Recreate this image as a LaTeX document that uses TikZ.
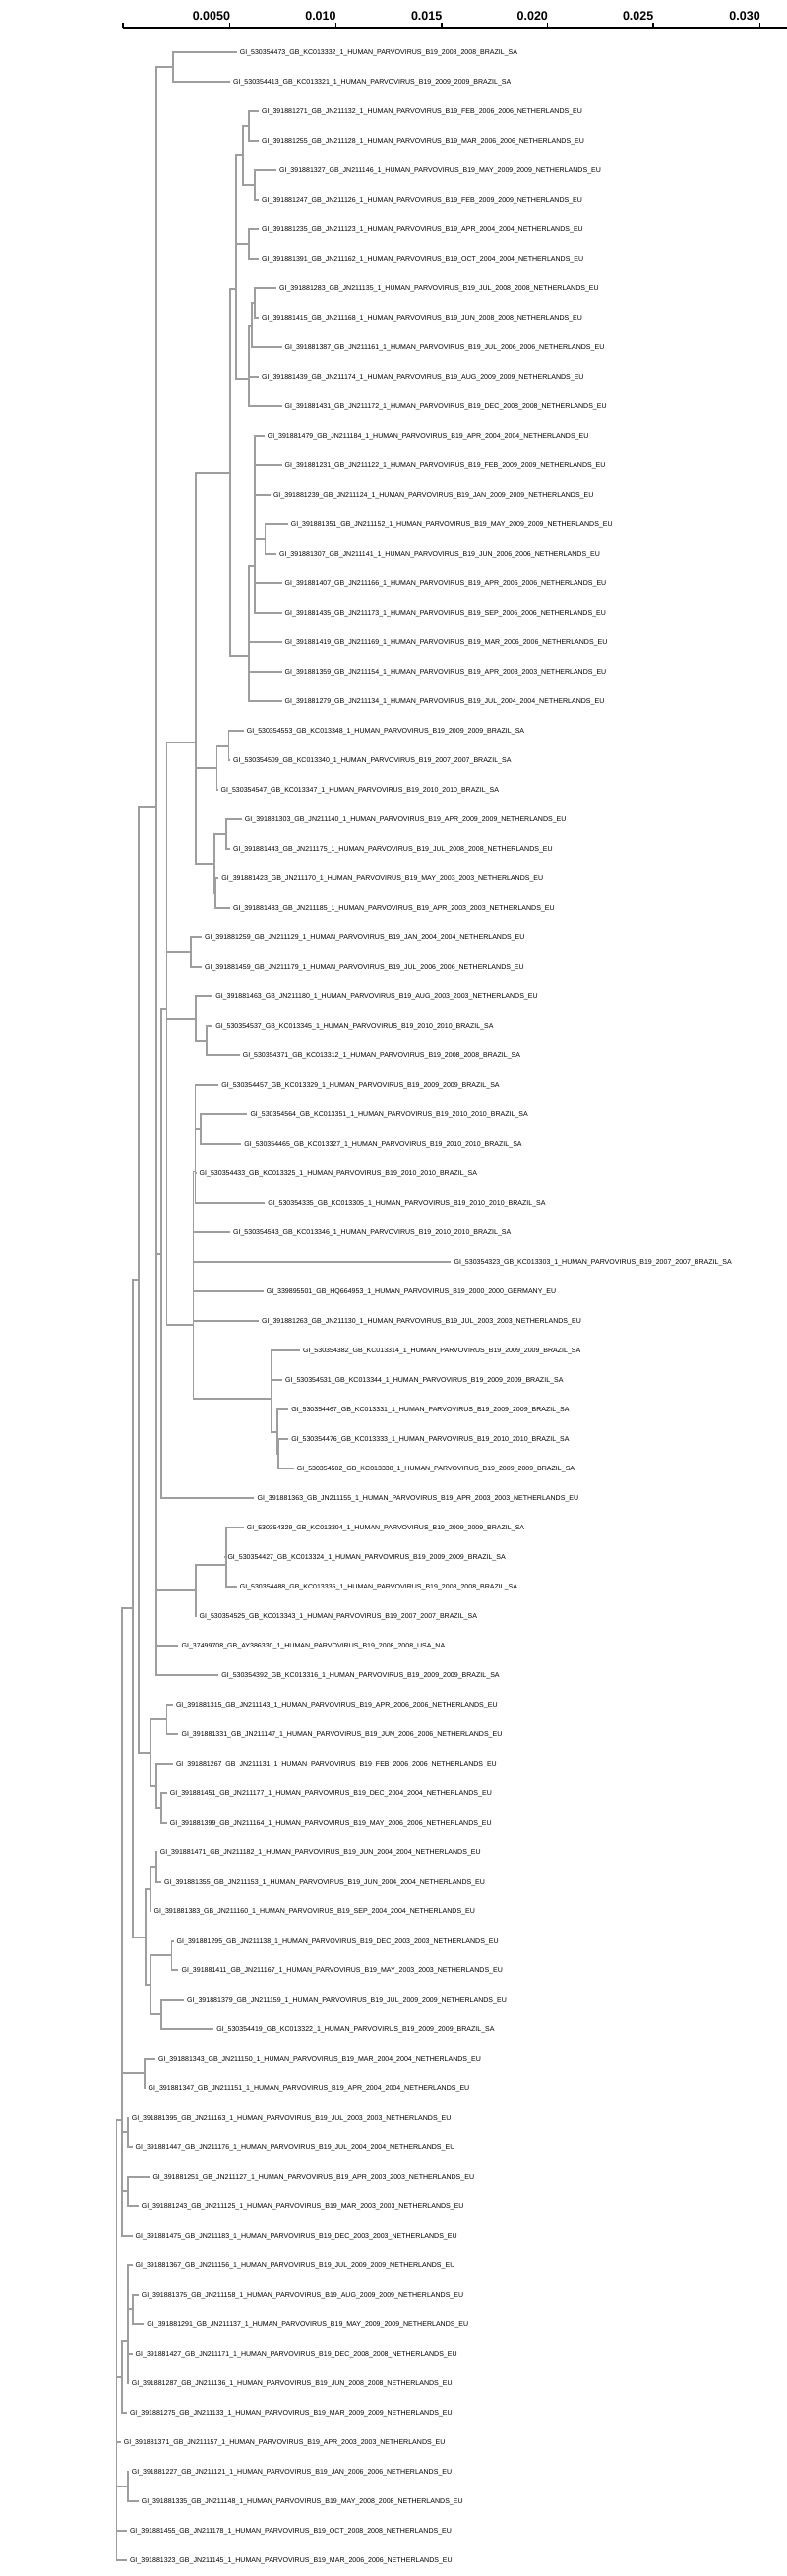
\documentclass[tikz,border=0pt]{standalone}
\usepackage{fontspec}
\setmainfont{Liberation Sans}
\definecolor{brgray}{RGB}{158,158,158}
\tikzset{
  br/.style={draw=brgray, line width=1.8pt},
  leaf/.style={anchor=west, inner xsep=3pt, inner ysep=0pt, text height=5pt, text depth=0pt, font=\fontsize{7.04}{8}\selectfont},
  axisline/.style={draw=black, line width=1.8pt},
  tickmark/.style={draw=black, line width=1.2pt},
  axlab/.style={anchor=base east, inner sep=0pt, font=\fontsize{12.5}{14}\selectfont\bfseries}
}
\newcommand\lf[3]{\node[leaf] (l#1) at (#2,{23.3+30*#1}) {#3};}
\newcommand\kids[2]{\foreach \c in {#2}{\draw[br] (#1) |- (\c);}}
\begin{document}
\catcode`\_=12
\begin{tikzpicture}[x=1pt,y=-1pt]
\useasboundingbox (0,0) rectangle (800,2619);
% axis
\coordinate (a0) at (125,28);
\coordinate (a1) at (800,28);
\draw[axisline] (a0) -- (a1);
\draw[tickmark] (a0) -- ++(0,-5.5);
\foreach \v/\x [count=\k] in {0.0050/233.7,0.010/341.3,0.015/449,0.020/556.6,0.025/664,0.030/772.4}{
  \coordinate (tk\k) at (\x,28);
  \draw[tickmark] (tk\k) -- ++(0,-5.5);
  \node[axlab] (tl\k) at (\x+0.5,20) {\v};
}
% leaves
\lf{1}{240.6}{GI_530354473_GB_KC013332_1_HUMAN_PARVOVIRUS_B19_2008_2008_BRAZIL_SA}
\lf{2}{233.9}{GI_530354413_GB_KC013321_1_HUMAN_PARVOVIRUS_B19_2009_2009_BRAZIL_SA}
\lf{3}{263}{GI_391881271_GB_JN211132_1_HUMAN_PARVOVIRUS_B19_FEB_2006_2006_NETHERLANDS_EU}
\lf{4}{263}{GI_391881255_GB_JN211128_1_HUMAN_PARVOVIRUS_B19_MAR_2006_2006_NETHERLANDS_EU}
\lf{5}{280.9}{GI_391881327_GB_JN211146_1_HUMAN_PARVOVIRUS_B19_MAY_2009_2009_NETHERLANDS_EU}
\lf{6}{263}{GI_391881247_GB_JN211126_1_HUMAN_PARVOVIRUS_B19_FEB_2009_2009_NETHERLANDS_EU}
\lf{7}{263}{GI_391881235_GB_JN211123_1_HUMAN_PARVOVIRUS_B19_APR_2004_2004_NETHERLANDS_EU}
\lf{8}{263}{GI_391881391_GB_JN211162_1_HUMAN_PARVOVIRUS_B19_OCT_2004_2004_NETHERLANDS_EU}
\lf{9}{280.9}{GI_391881283_GB_JN211135_1_HUMAN_PARVOVIRUS_B19_JUL_2008_2008_NETHERLANDS_EU}
\lf{10}{263}{GI_391881415_GB_JN211168_1_HUMAN_PARVOVIRUS_B19_JUN_2008_2008_NETHERLANDS_EU}
\lf{11}{286.5}{GI_391881387_GB_JN211161_1_HUMAN_PARVOVIRUS_B19_JUL_2006_2006_NETHERLANDS_EU}
\lf{12}{263}{GI_391881439_GB_JN211174_1_HUMAN_PARVOVIRUS_B19_AUG_2009_2009_NETHERLANDS_EU}
\lf{13}{286.5}{GI_391881431_GB_JN211172_1_HUMAN_PARVOVIRUS_B19_DEC_2008_2008_NETHERLANDS_EU}
\lf{14}{268.6}{GI_391881479_GB_JN211184_1_HUMAN_PARVOVIRUS_B19_APR_2004_2004_NETHERLANDS_EU}
\lf{15}{286.5}{GI_391881231_GB_JN211122_1_HUMAN_PARVOVIRUS_B19_FEB_2009_2009_NETHERLANDS_EU}
\lf{16}{274.8}{GI_391881239_GB_JN211124_1_HUMAN_PARVOVIRUS_B19_JAN_2009_2009_NETHERLANDS_EU}
\lf{17}{292.6}{GI_391881351_GB_JN211152_1_HUMAN_PARVOVIRUS_B19_MAY_2009_2009_NETHERLANDS_EU}
\lf{18}{280.9}{GI_391881307_GB_JN211141_1_HUMAN_PARVOVIRUS_B19_JUN_2006_2006_NETHERLANDS_EU}
\lf{19}{286.5}{GI_391881407_GB_JN211166_1_HUMAN_PARVOVIRUS_B19_APR_2006_2006_NETHERLANDS_EU}
\lf{20}{286.5}{GI_391881435_GB_JN211173_1_HUMAN_PARVOVIRUS_B19_SEP_2006_2006_NETHERLANDS_EU}
\lf{21}{286.5}{GI_391881419_GB_JN211169_1_HUMAN_PARVOVIRUS_B19_MAR_2006_2006_NETHERLANDS_EU}
\lf{22}{286.5}{GI_391881359_GB_JN211154_1_HUMAN_PARVOVIRUS_B19_APR_2003_2003_NETHERLANDS_EU}
\lf{23}{286.5}{GI_391881279_GB_JN211134_1_HUMAN_PARVOVIRUS_B19_JUL_2004_2004_NETHERLANDS_EU}
\lf{24}{247.7}{GI_530354553_GB_KC013348_1_HUMAN_PARVOVIRUS_B19_2009_2009_BRAZIL_SA}
\lf{25}{234}{GI_530354509_GB_KC013340_1_HUMAN_PARVOVIRUS_B19_2007_2007_BRAZIL_SA}
\lf{26}{221.5}{GI_530354547_GB_KC013347_1_HUMAN_PARVOVIRUS_B19_2010_2010_BRAZIL_SA}
\lf{27}{245.7}{GI_391881303_GB_JN211140_1_HUMAN_PARVOVIRUS_B19_APR_2009_2009_NETHERLANDS_EU}
\lf{28}{233.9}{GI_391881443_GB_JN211175_1_HUMAN_PARVOVIRUS_B19_JUL_2008_2008_NETHERLANDS_EU}
\lf{29}{222.2}{GI_391881423_GB_JN211170_1_HUMAN_PARVOVIRUS_B19_MAY_2003_2003_NETHERLANDS_EU}
\lf{30}{233.9}{GI_391881483_GB_JN211185_1_HUMAN_PARVOVIRUS_B19_APR_2003_2003_NETHERLANDS_EU}
\lf{31}{204.9}{GI_391881259_GB_JN211129_1_HUMAN_PARVOVIRUS_B19_JAN_2004_2004_NETHERLANDS_EU}
\lf{32}{204.9}{GI_391881459_GB_JN211179_1_HUMAN_PARVOVIRUS_B19_JUL_2006_2006_NETHERLANDS_EU}
\lf{33}{216.1}{GI_391881463_GB_JN211180_1_HUMAN_PARVOVIRUS_B19_AUG_2003_2003_NETHERLANDS_EU}
\lf{34}{216.1}{GI_530354537_GB_KC013345_1_HUMAN_PARVOVIRUS_B19_2010_2010_BRAZIL_SA}
\lf{35}{243.6}{GI_530354371_GB_KC013312_1_HUMAN_PARVOVIRUS_B19_2008_2008_BRAZIL_SA}
\lf{36}{222.2}{GI_530354457_GB_KC013329_1_HUMAN_PARVOVIRUS_B19_2009_2009_BRAZIL_SA}
\lf{37}{251.3}{GI_530354564_GB_KC013351_1_HUMAN_PARVOVIRUS_B19_2010_2010_BRAZIL_SA}
\lf{38}{245.2}{GI_530354465_GB_KC013327_1_HUMAN_PARVOVIRUS_B19_2010_2010_BRAZIL_SA}
\lf{39}{199.5}{GI_530354433_GB_KC013325_1_HUMAN_PARVOVIRUS_B19_2010_2010_BRAZIL_SA}
\lf{40}{269.1}{GI_530354335_GB_KC013305_1_HUMAN_PARVOVIRUS_B19_2010_2010_BRAZIL_SA}
\lf{41}{233.9}{GI_530354543_GB_KC013346_1_HUMAN_PARVOVIRUS_B19_2010_2010_BRAZIL_SA}
\lf{42}{458.4}{GI_530354323_GB_KC013303_1_HUMAN_PARVOVIRUS_B19_2007_2007_BRAZIL_SA}
\lf{43}{267.6}{GI_339895501_GB_HQ664953_1_HUMAN_PARVOVIRUS_B19_2000_2000_GERMANY_EU}
\lf{44}{263}{GI_391881263_GB_JN211130_1_HUMAN_PARVOVIRUS_B19_JUL_2003_2003_NETHERLANDS_EU}
\lf{45}{304.9}{GI_530354382_GB_KC013314_1_HUMAN_PARVOVIRUS_B19_2009_2009_BRAZIL_SA}
\lf{46}{287}{GI_530354531_GB_KC013344_1_HUMAN_PARVOVIRUS_B19_2009_2009_BRAZIL_SA}
\lf{47}{293.1}{GI_530354467_GB_KC013331_1_HUMAN_PARVOVIRUS_B19_2009_2009_BRAZIL_SA}
\lf{48}{293.1}{GI_530354476_GB_KC013333_1_HUMAN_PARVOVIRUS_B19_2010_2010_BRAZIL_SA}
\lf{49}{298.7}{GI_530354502_GB_KC013338_1_HUMAN_PARVOVIRUS_B19_2009_2009_BRAZIL_SA}
\lf{50}{258.4}{GI_391881363_GB_JN211155_1_HUMAN_PARVOVIRUS_B19_APR_2003_2003_NETHERLANDS_EU}
\lf{51}{247.7}{GI_530354329_GB_KC013304_1_HUMAN_PARVOVIRUS_B19_2009_2009_BRAZIL_SA}
\lf{52}{228.3}{GI_530354427_GB_KC013324_1_HUMAN_PARVOVIRUS_B19_2009_2009_BRAZIL_SA}
\lf{53}{240.6}{GI_530354488_GB_KC013335_1_HUMAN_PARVOVIRUS_B19_2008_2008_BRAZIL_SA}
\lf{54}{199.5}{GI_530354525_GB_KC013343_1_HUMAN_PARVOVIRUS_B19_2007_2007_BRAZIL_SA}
\lf{55}{181.4}{GI_37499708_GB_AY386330_1_HUMAN_PARVOVIRUS_B19_2008_2008_USA_NA}
\lf{56}{222.2}{GI_530354392_GB_KC013316_1_HUMAN_PARVOVIRUS_B19_2009_2009_BRAZIL_SA}
\lf{57}{175.8}{GI_391881315_GB_JN211143_1_HUMAN_PARVOVIRUS_B19_APR_2006_2006_NETHERLANDS_EU}
\lf{58}{181.4}{GI_391881331_GB_JN211147_1_HUMAN_PARVOVIRUS_B19_JUN_2006_2006_NETHERLANDS_EU}
\lf{59}{175.8}{GI_391881267_GB_JN211131_1_HUMAN_PARVOVIRUS_B19_FEB_2006_2006_NETHERLANDS_EU}
\lf{60}{169.7}{GI_391881451_GB_JN211177_1_HUMAN_PARVOVIRUS_B19_DEC_2004_2004_NETHERLANDS_EU}
\lf{61}{169.7}{GI_391881399_GB_JN211164_1_HUMAN_PARVOVIRUS_B19_MAY_2006_2006_NETHERLANDS_EU}
\lf{62}{159.7}{GI_391881471_GB_JN211182_1_HUMAN_PARVOVIRUS_B19_JUN_2004_2004_NETHERLANDS_EU}
\lf{63}{164}{GI_391881355_GB_JN211153_1_HUMAN_PARVOVIRUS_B19_JUN_2004_2004_NETHERLANDS_EU}
\lf{64}{153.5}{GI_391881383_GB_JN211160_1_HUMAN_PARVOVIRUS_B19_SEP_2004_2004_NETHERLANDS_EU}
\lf{65}{176.5}{GI_391881295_GB_JN211138_1_HUMAN_PARVOVIRUS_B19_DEC_2003_2003_NETHERLANDS_EU}
\lf{66}{181.4}{GI_391881411_GB_JN211167_1_HUMAN_PARVOVIRUS_B19_MAY_2003_2003_NETHERLANDS_EU}
\lf{67}{187}{GI_391881379_GB_JN211159_1_HUMAN_PARVOVIRUS_B19_JUL_2009_2009_NETHERLANDS_EU}
\lf{68}{217.1}{GI_530354419_GB_KC013322_1_HUMAN_PARVOVIRUS_B19_2009_2009_BRAZIL_SA}
\lf{69}{157.9}{GI_391881343_GB_JN211150_1_HUMAN_PARVOVIRUS_B19_MAR_2004_2004_NETHERLANDS_EU}
\lf{70}{147.5}{GI_391881347_GB_JN211151_1_HUMAN_PARVOVIRUS_B19_APR_2004_2004_NETHERLANDS_EU}
\lf{71}{130.6}{GI_391881395_GB_JN211163_1_HUMAN_PARVOVIRUS_B19_JUL_2003_2003_NETHERLANDS_EU}
\lf{72}{134.5}{GI_391881447_GB_JN211176_1_HUMAN_PARVOVIRUS_B19_JUL_2004_2004_NETHERLANDS_EU}
\lf{73}{152.3}{GI_391881251_GB_JN211127_1_HUMAN_PARVOVIRUS_B19_APR_2003_2003_NETHERLANDS_EU}
\lf{74}{140.6}{GI_391881243_GB_JN211125_1_HUMAN_PARVOVIRUS_B19_MAR_2003_2003_NETHERLANDS_EU}
\lf{75}{134.5}{GI_391881475_GB_JN211183_1_HUMAN_PARVOVIRUS_B19_DEC_2003_2003_NETHERLANDS_EU}
\lf{76}{134.5}{GI_391881367_GB_JN211156_1_HUMAN_PARVOVIRUS_B19_JUL_2009_2009_NETHERLANDS_EU}
\lf{77}{140.6}{GI_391881375_GB_JN211158_1_HUMAN_PARVOVIRUS_B19_AUG_2009_2009_NETHERLANDS_EU}
\lf{78}{146.2}{GI_391881291_GB_JN211137_1_HUMAN_PARVOVIRUS_B19_MAY_2009_2009_NETHERLANDS_EU}
\lf{79}{134.5}{GI_391881427_GB_JN211171_1_HUMAN_PARVOVIRUS_B19_DEC_2008_2008_NETHERLANDS_EU}
\lf{80}{130.6}{GI_391881287_GB_JN211136_1_HUMAN_PARVOVIRUS_B19_JUN_2008_2008_NETHERLANDS_EU}
\lf{81}{128.8}{GI_391881275_GB_JN211133_1_HUMAN_PARVOVIRUS_B19_MAR_2009_2009_NETHERLANDS_EU}
\lf{82}{122.7}{GI_391881371_GB_JN211157_1_HUMAN_PARVOVIRUS_B19_APR_2003_2003_NETHERLANDS_EU}
\lf{83}{130.6}{GI_391881227_GB_JN211121_1_HUMAN_PARVOVIRUS_B19_JAN_2006_2006_NETHERLANDS_EU}
\lf{84}{140.6}{GI_391881335_GB_JN211148_1_HUMAN_PARVOVIRUS_B19_MAY_2008_2008_NETHERLANDS_EU}
\lf{85}{128.8}{GI_391881455_GB_JN211178_1_HUMAN_PARVOVIRUS_B19_OCT_2008_2008_NETHERLANDS_EU}
\lf{86}{128.8}{GI_391881323_GB_JN211145_1_HUMAN_PARVOVIRUS_B19_MAR_2006_2006_NETHERLANDS_EU}
% internal nodes
\coordinate (nA) at (176,68.3);
\coordinate (n34) at (252.6,128.3);
\coordinate (n56) at (258.7,188.3);
\coordinate (nB) at (246.9,158.3);
\coordinate (n78) at (252.6,248.3);
\coordinate (n910) at (258.7,308.3);
\coordinate (n911) at (256,330.8);
\coordinate (nD) at (252.6,385.2);
\coordinate (nC) at (239.8,294.3);
\coordinate (n1718) at (269.4,548.3);
\coordinate (nE) at (258.7,574.6);
\coordinate (nF) at (252.6,667);
\coordinate (nG) at (233.7,480.7);
\coordinate (n2425) at (232.5,758.3);
\coordinate (n2426) at (220.4,780.8);
\coordinate (n2728) at (229.6,848.3);
\coordinate (n2930) at (219,908.3);
\coordinate (n2730) at (217.9,878.3);
\coordinate (nH) at (199,754.5);
\coordinate (n3132) at (193.9,968.3);
\coordinate (n3435) at (210.2,1058.3);
\coordinate (n3335) at (199,1035.8);
\coordinate (n3738) at (204.1,1148.3);
\coordinate (nJ1) at (198.5,1191.4);
\coordinate (n4849) at (283,1478.3);
\coordinate (n4749) at (282.1,1455.8);
\coordinate (n4549) at (275.5,1422);
\coordinate (nJ) at (196.4,1346.7);
\coordinate (nI) at (169.4,1026.3);
\coordinate (nS) at (164.3,1274.8);
\coordinate (n5153) at (229.6,1590.8);
\coordinate (n5154) at (199,1617);
\coordinate (nK) at (159.2,820);
\coordinate (n5758) at (169.4,1748.3);
\coordinate (n6061) at (164.3,1838.3);
\coordinate (n5961) at (159.2,1815.8);
\coordinate (n5761) at (153,1782);
\coordinate (nN) at (140.8,1301);
\coordinate (n6263) at (159.2,1898.3);
\coordinate (n6264) at (153,1920.8);
\coordinate (n6566) at (174.5,1988.3);
\coordinate (n6768) at (164.3,2048.3);
\coordinate (n6568) at (153,2018.3);
\coordinate (nL) at (148,1969.5);
\coordinate (nM) at (135.2,1635.3);
\coordinate (n6970) at (147,2108.3);
\coordinate (n7172) at (130.1,2168.3);
\coordinate (n7374) at (130.1,2228.3);
\coordinate (nO) at (124,2155);
\coordinate (n7778) at (135.2,2348.3);
\coordinate (nP) at (130.1,2380);
\coordinate (nQ) at (124,2416.7);
\coordinate (n8384) at (130.1,2528.3);
\coordinate (nR) at (118.4,2155);
% branches
\kids{nA}{l1,l2}
\kids{n34}{l3,l4}
\kids{n56}{l5,l6}
\kids{nB}{n34,n56}
\kids{n78}{l7,l8}
\kids{n910}{l9,l10}
\kids{n911}{n910,l11}
\kids{nD}{n911,l12,l13}
\kids{nC}{nB,n78,nD}
\kids{n1718}{l17,l18}
\kids{nE}{l14,l15,l16,n1718,l19,l20}
\kids{nF}{nE,l21,l22,l23}
\kids{nG}{nC,nF}
\kids{n2425}{l24,l25}
\kids{n2426}{n2425,l26}
\kids{n2728}{l27,l28}
\kids{n2930}{l29,l30}
\kids{n2730}{n2728,n2930}
\kids{nH}{nG,n2426,n2730}
\kids{n3132}{l31,l32}
\kids{n3435}{l34,l35}
\kids{n3335}{l33,n3435}
\kids{n3738}{l37,l38}
\kids{nJ1}{l36,n3738,l39,l40}
\kids{n4849}{l48,l49}
\kids{n4749}{l47,n4849}
\kids{n4549}{l45,l46,n4749}
\kids{nJ}{nJ1,l41,l42,l43,l44,n4549}
\kids{nI}{nH,n3132,n3335,nJ}
\kids{nS}{nI,l50}
\kids{n5153}{l51,l52,l53}
\kids{n5154}{n5153,l54}
\kids{nK}{nA,nS,n5154,l55,l56}
\kids{n5758}{l57,l58}
\kids{n6061}{l60,l61}
\kids{n5961}{l59,n6061}
\kids{n5761}{n5758,n5961}
\kids{nN}{nK,n5761}
\kids{n6263}{l62,l63}
\kids{n6264}{n6263,l64}
\kids{n6566}{l65,l66}
\kids{n6768}{l67,l68}
\kids{n6568}{n6566,n6768}
\kids{nL}{n6264,n6568}
\kids{nM}{nN,nL}
\kids{n6970}{l69,l70}
\kids{n7172}{l71,l72}
\kids{n7374}{l73,l74}
\kids{nO}{nM,n6970,n7172,n7374,l75}
\kids{n7778}{l77,l78}
\kids{nP}{l76,n7778,l79,l80}
\kids{nQ}{nP,l81}
\kids{n8384}{l83,l84}
\kids{nR}{nO,nQ,l82,n8384,l85,l86}
\end{tikzpicture}
\end{document}
